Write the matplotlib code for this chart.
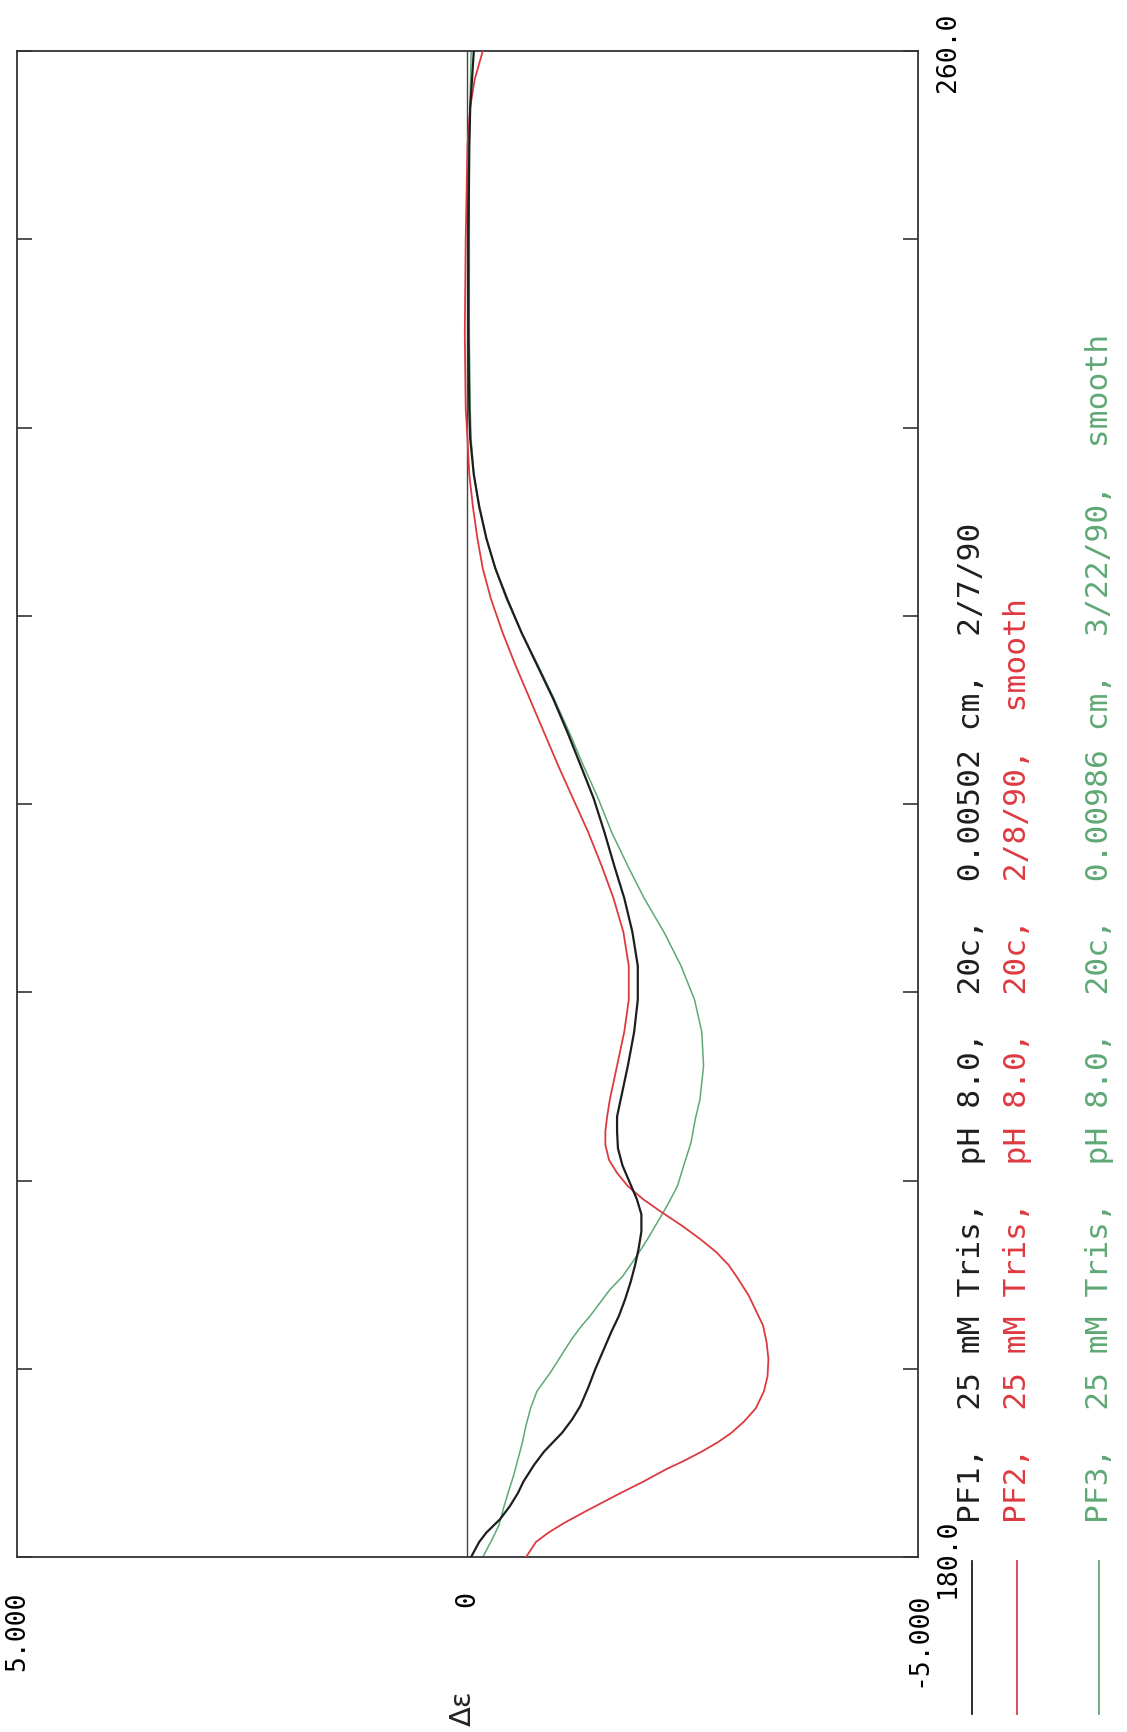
import matplotlib
matplotlib.use("Agg")
import matplotlib.pyplot as plt
from matplotlib.lines import Line2D

# wavelength (nm) / delta epsilon
pf1_wl = [180.0, 180.8, 181.3, 182.0, 182.7, 183.4, 184.0, 184.9, 185.6, 186.6, 187.3, 188.0,
          189.0, 190.0, 191.0, 192.0, 192.8, 193.7, 194.6, 195.5, 196.4, 197.3, 198.2, 199.0,
          199.9, 200.8, 201.7, 202.6, 203.4, 204.3, 206.1, 207.9, 209.6, 211.4, 213.2, 215.0,
          216.7, 218.5, 220.3, 222.0, 223.8, 225.6, 227.4, 229.1, 230.9, 232.5, 234.1, 235.8,
          237.5, 239.4, 241.0, 245.0, 250.0, 255.0, 257.0, 260.0]
pf1_de = [-0.04, -0.13, -0.21, -0.36, -0.47, -0.56, -0.62, -0.74, -0.85, -1.05, -1.16, -1.25,
          -1.34, -1.42, -1.51, -1.60, -1.68, -1.75, -1.81, -1.86, -1.90, -1.93, -1.93, -1.88,
          -1.80, -1.72, -1.67, -1.66, -1.66, -1.70, -1.78, -1.85, -1.89, -1.89, -1.83, -1.74,
          -1.63, -1.52, -1.40, -1.26, -1.11, -0.95, -0.77, -0.60, -0.44, -0.31, -0.21, -0.13,
          -0.07, -0.03, -0.02, -0.01, -0.01, -0.02, -0.03, -0.07]

pf2_wl = [180.0, 180.8, 181.3, 181.8, 182.4, 182.9, 183.4, 184.0, 184.7, 185.1, 185.6, 186.1,
          186.6, 187.2, 187.9, 188.8, 189.6, 190.5, 191.4, 192.3, 193.0, 193.9, 194.8, 195.5,
          196.2, 196.9, 197.6, 198.3, 199.0, 199.7, 200.4, 201.1, 201.9, 202.6, 203.4, 204.3,
          206.1, 207.9, 209.6, 211.4, 213.2, 215.0, 216.7, 218.5, 220.3, 222.0, 223.8, 225.6,
          227.4, 229.1, 230.9, 232.5, 234.1, 235.8, 237.5, 239.4, 241.0, 245.0, 250.0, 255.0,
          257.0, 258.5, 260.0]
pf2_de = [-0.65, -0.76, -0.90, -1.07, -1.30, -1.50, -1.70, -1.95, -2.22, -2.40, -2.60, -2.78,
          -2.93, -3.07, -3.20, -3.29, -3.33, -3.34, -3.32, -3.28, -3.21, -3.12, -3.00, -2.90,
          -2.76, -2.58, -2.38, -2.16, -1.95, -1.78, -1.66, -1.57, -1.53, -1.53, -1.55, -1.58,
          -1.66, -1.74, -1.79, -1.79, -1.73, -1.62, -1.49, -1.34, -1.17, -1.01, -0.85, -0.69,
          -0.53, -0.39, -0.26, -0.17, -0.11, -0.06, -0.02, 0.00, 0.02, 0.03, 0.02, 0.00,
          -0.03, -0.08, -0.17]

pf3_wl = [180.0, 181.0, 181.7, 182.6, 183.4, 184.3, 185.2, 186.1, 187.0, 187.9, 188.8, 189.8,
          190.7, 191.6, 192.3, 192.8, 193.5, 194.2, 194.9, 196.0, 196.9, 197.8, 198.7, 199.7,
          200.8, 202.0, 203.3, 204.3, 206.1, 207.9, 209.6, 211.4, 213.2, 215.0, 216.7, 218.5,
          220.3, 222.0, 223.8, 225.6, 227.4, 229.1, 230.9, 232.5, 234.1, 235.8, 237.5, 239.4,
          241.0, 245.0, 250.0, 255.0, 260.0]
pf3_de = [-0.17, -0.28, -0.35, -0.40, -0.45, -0.51, -0.56, -0.61, -0.65, -0.70, -0.77, -0.92,
          -1.04, -1.16, -1.27, -1.36, -1.47, -1.58, -1.72, -1.88, -2.00, -2.11, -2.22, -2.33,
          -2.40, -2.48, -2.53, -2.58, -2.62, -2.60, -2.52, -2.37, -2.18, -1.96, -1.78, -1.60,
          -1.45, -1.29, -1.13, -0.96, -0.78, -0.60, -0.43, -0.31, -0.21, -0.13, -0.07, -0.04,
          -0.03, -0.02, -0.02, -0.02, -0.04]

legend_lines = [
    "PF1,  25 mM Tris,  pH 8.0,  20c,  0.00502 cm,  2/7/90",
    "PF2,  25 mM Tris,  pH 8.0,  20c,  2/8/90,  smooth",
    "PF3,  25 mM Tris,  pH 8.0,  20c,  0.00986 cm,  3/22/90,  smooth",
]
colors = ["#1e1e1e", "#dd3a40", "#5fa874"]

W, H = 1127, 1733
fig = plt.figure(figsize=(W / 100, H / 100), dpi=100)
mono = "DejaVu Sans Mono"

# plot is drawn turned on its side: wavelength runs up the page
ax = fig.add_axes([17 / W, 1 - 1558 / H, (918 - 17) / W, (1558 - 52) / H])
ax.axvline(0, color="#444444", lw=1.0, zorder=1)
ax.plot(pf3_de, pf3_wl, color=colors[2], lw=1.1, zorder=2)
ax.plot(pf2_de, pf2_wl, color=colors[1], lw=1.3, zorder=3)
ax.plot(pf1_de, pf1_wl, color=colors[0], lw=1.6, zorder=4)

ax.set_xlim(5, -5)
ax.set_ylim(180, 260)
for s in ax.spines.values():
    s.set_color("#333333")
    s.set_linewidth(1.3)

ax.set_xticks([5, 0, -5])
ax.set_xticklabels(["5.000", "0", "-5.000"], rotation=90, family=mono, fontsize=19)
ax.tick_params(axis="x", length=0, pad=24)

yt = list(range(180, 261, 10))
ax.set_yticks(yt)
ax.set_yticklabels(["180.0"] + [""] * 7 + ["260.0"], rotation=90, va="center",
                   family=mono, fontsize=19)
ax.tick_params(axis="y", direction="in", length=11, width=1.2, color="#333333",
               left=True, right=True, labelleft=False, labelright=True, pad=12)

fig.text(463 / W, 1 - 1708 / H, "Δε", rotation=90, ha="center", va="center",
         fontsize=21, color="#222222")

# legend, written sideways like the rest
leg_x = [972, 1017, 1099]
for x, txt, c in zip(leg_x, legend_lines, colors):
    fig.add_artist(Line2D([x / W, x / W], [1 - 1562 / H, 1 - 1715 / H],
                          transform=fig.transFigure, color=c, lw=1.3))
    fig.text(x / W, 1 - 1523 / H, txt, rotation=90, ha="center", va="bottom",
             family=mono, fontsize=22.5, color=c)

fig.savefig("out.png", dpi=100)
